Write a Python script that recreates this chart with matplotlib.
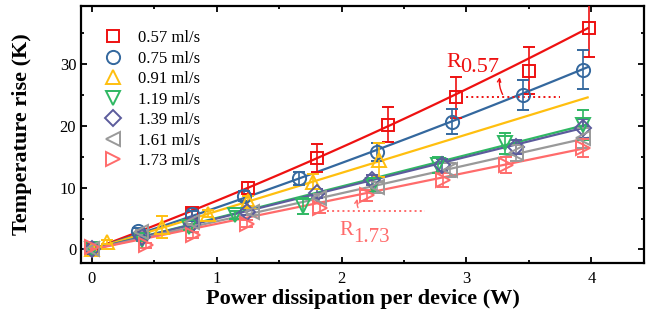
import numpy as np
import matplotlib
matplotlib.use('Agg')
import matplotlib.pyplot as plt
from matplotlib.lines import Line2D
from matplotlib.ticker import MultipleLocator

plt.rcParams['font.family'] = ['Liberation Serif', 'DejaVu Serif']

# flow rates (legend labels)
labels = ['0.57 ml/s', '0.75 ml/s', '0.91 ml/s', '1.19 ml/s',
          '1.39 ml/s', '1.61 ml/s', '1.73 ml/s']

# measured points: power (W), temperature rise (K), error (K)
x057 = [0, 0.8, 1.25, 1.8, 2.37, 2.92, 3.5, 3.98]
y057 = [0, 5.9, 10.0, 14.8, 20.2, 24.6, 28.9, 35.8]
e057 = [0.3, 0.8, 1.0, 2.2, 2.8, 3.3, 3.8, 4.6]

x075 = [0, 0.37, 0.8, 1.22, 1.66, 2.28, 2.88, 3.45, 3.93]
y075 = [0, 3.0, 5.7, 8.6, 11.5, 15.8, 20.7, 25.0, 29.1]
e075 = [0.2, 0.4, 0.6, 0.8, 1.0, 1.4, 2.0, 2.5, 3.2]

x091 = [0, 0.12, 0.56, 0.93, 1.25, 1.77, 2.3]
y091 = [0, 1.2, 3.6, 5.8, 7.8, 11.0, 14.5]
e091 = [0.2, 0.3, 1.8, 0.6, 0.8, 1.2, 2.8]

x119 = [0, 0.4, 0.78, 1.15, 1.69, 2.25, 2.77, 3.31, 3.93]
y119 = [0, 1.6, 3.6, 5.6, 7.0, 10.5, 13.7, 17.2, 20.1]
e119 = [0.6, 0.3, 0.5, 0.6, 1.3, 1.0, 1.3, 1.7, 2.4]

x139 = [0, 0.4, 0.8, 1.24, 1.8, 2.24, 2.8, 3.4, 3.93]
y139 = [0, 2.0, 4.2, 6.1, 9.1, 11.2, 13.7, 16.6, 19.6]
e139 = [0.2, 0.3, 0.4, 0.5, 0.7, 0.8, 1.0, 1.2, 1.5]

x161 = [0, 0.39, 0.8, 1.28, 1.82, 2.28, 2.87, 3.4, 3.93]
y161 = [0, 2.8, 4.4, 6.0, 8.3, 10.1, 12.9, 15.6, 18.0]
e161 = [0.2, 0.3, 0.4, 0.5, 0.7, 0.9, 1.1, 1.3, 1.6]

x173 = [0, 0.43, 0.81, 1.24, 1.83, 2.2, 2.81, 3.32, 3.93]
y173 = [0.4, 0.7, 2.3, 4.2, 6.7, 8.8, 11.2, 13.7, 16.4]
e173 = [0.3, 0.4, 0.5, 0.6, 0.8, 0.9, 1.1, 1.3, 1.5]

# fit curves T = a*P + b*P^2, coefficients
fit_a = [7.51, 6.56, 6.2, 5.1, 5.0, 4.55, 4.15]
fit_b = [0.38, 0.22, 0.0, 0.0, 0.0, 0.0, 0.0]

xs = [x057, x075, x091, x119, x139, x161, x173]
ys = [y057, y075, y091, y119, y139, y161, y173]
es = [e057, e075, e091, e119, e139, e161, e173]

colors = ['#ee1111', '#34689e', '#ffbf0f', '#2fb863', '#5c5c9c', '#999999', '#ff6b6b']
markers = ['s', 'o', '^', 'v', 'D', '<', '>']
msizes = [8, 9.5, 10, 10, 8, 10, 10]


def fit_curve(i, p):
    return fit_a[i] * p + fit_b[i] * p ** 2


fig = plt.figure(figsize=(6.59, 3.2), dpi=100)
ax = fig.add_axes([0.123, 0.178, 0.854, 0.803])

xfit = np.linspace(0, 3.97, 80)
for i, (x, y, e, c, m, ms) in enumerate(zip(xs, ys, es, colors, markers, msizes)):
    ax.plot(xfit, fit_curve(i, xfit), color=c, lw=1.6, zorder=2)
    ax.errorbar(x, y, yerr=e, fmt=m, ms=ms, mfc='none', mec=c, mew=1.4,
                ecolor=c, elinewidth=1.2, capsize=4, capthick=1.2, zorder=3)

# rotation markers R_0.57 and R_1.73
red, pink = colors[0], colors[6]
ax.plot([2.96, 3.75], [24.6, 24.6], ':', color=red, lw=1.4)
ax.annotate('', xy=(3.27, fit_curve(0, 3.27) - 0.3), xytext=(3.30, 24.7),
            arrowprops=dict(arrowstyle='->', color=red, lw=1,
                            connectionstyle='arc3,rad=-0.2', mutation_scale=6))
ax.text(2.84, 29.5, 'R', color=red, fontsize=16)
ax.text(2.95, 28.8, '0.57', color=red, fontsize=16)

ax.plot([1.88, 2.67], [6.25, 6.25], ':', color=pink, lw=1.4)
ax.annotate('', xy=(2.13, fit_curve(6, 2.13) - 0.2), xytext=(2.14, 6.35),
            arrowprops=dict(arrowstyle='->', color=pink, lw=1,
                            connectionstyle='arc3,rad=-0.2', mutation_scale=6))
ax.text(1.98, 2.3, 'R', color=pink, fontsize=15)
ax.text(2.09, 1.2, '1.73', color=pink, fontsize=15)

handles = [Line2D([], [], ls='none', marker=m, ms=ms, mfc='none', mec=c, mew=1.4)
           for c, m, ms in zip(colors, markers, msizes)]
ax.legend(handles, labels, loc='upper left', bbox_to_anchor=(0.01, 0.945),
          frameon=False, fontsize=12, labelspacing=0.27, handletextpad=0.5,
          borderaxespad=0.2)

ax.set_xlim(-0.086, 4.42)
ax.set_ylim(-2.2, 39.4)
ax.xaxis.set_major_locator(MultipleLocator(1))
ax.xaxis.set_minor_locator(MultipleLocator(0.5))
ax.yaxis.set_major_locator(MultipleLocator(10))
ax.yaxis.set_minor_locator(MultipleLocator(5))
ax.tick_params(which='both', direction='in', top=True, right=True, width=1.3,
               labelsize=12)
ax.tick_params(axis='x', which='major', pad=6)
ax.tick_params(which='major', length=4)
ax.tick_params(which='minor', length=2.5)
for s in ax.spines.values():
    s.set_linewidth(1.6)

ax.set_xlabel('Power dissipation per device (W)', fontsize=16, fontweight='bold',
              labelpad=1)
ax.set_ylabel('Temperature rise (K)', fontsize=16, fontweight='bold', labelpad=20)

fig.savefig('out.png', dpi=100)
